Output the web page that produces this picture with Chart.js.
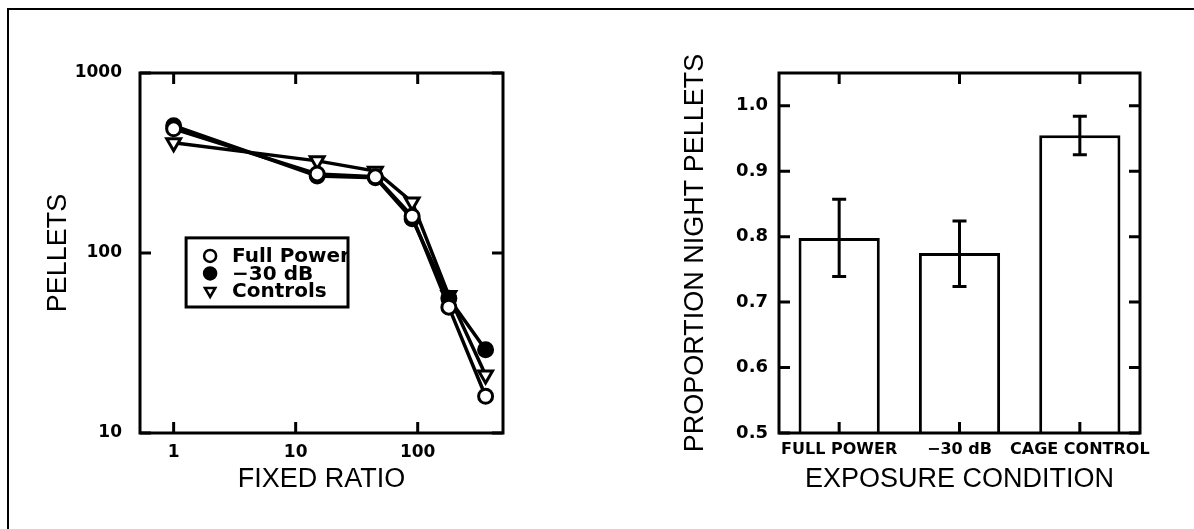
<!DOCTYPE html>
<html>
<head>
<meta charset="utf-8">
<script src="https://cdn.jsdelivr.net/npm/chart.js@4.4.1/dist/chart.umd.min.js"></script>
<style>
  html, body { margin: 0; padding: 0; background: #fff; }
  body { width: 1194px; height: 529px; position: relative; overflow: hidden; }
  #frame { position: absolute; left: 7px; top: 8px; right: -4px; bottom: -4px; border-top: 2px solid #000; border-left: 2px solid #000; }
  canvas { position: absolute; top: 0; }
  #pelletChart { left: 0; }
  #nightChart { left: 600px; }
</style>
</head>
<body>
<div id="frame"></div>
<canvas id="pelletChart" width="600" height="529"></canvas>
<canvas id="nightChart" width="594" height="529"></canvas>
<script>
// ── Data: pellets vs fixed ratio ─────────────────────────────────────────────
const fixedRatios = [1, 15, 45, 90, 180, 360];
const fullPower   = [490, 275, 265, 160, 50, 16];
const minus30dB   = [510, 268, 262, 155, 56, 29];
const controls    = [410, 325, 285, 192, 58, 21];
const ratioTicks  = [1, 10, 100];
const pelletTicks = [10, 100, 1000];

// ── Data: proportion of night pellets ────────────────────────────────────────
const conditions = ['FULL POWER', '\u221230 dB', 'CAGE CONTROL'];
const proportion = [0.798, 0.775, 0.955];
const errLow     = [0.739, 0.724, 0.925];
const errHigh    = [0.857, 0.824, 0.984];
const propTicks  = [0.5, 0.6, 0.7, 0.8, 0.9, 1.0];

Chart.defaults.color = '#000';
Chart.defaults.font.family = "'DejaVu Sans', sans-serif";

const titleFont = { family: "'Liberation Sans', Arial, sans-serif", size: 27 };
const tickFont  = { family: "'DejaVu Sans', sans-serif", size: 17, weight: 'bold' };

// box round the plot + inward ticks on all four sides
const boxTicks = {
  id: 'boxTicks',
  afterDraw(chart, args, opts) {
    const { ctx, chartArea: a, scales: { x, y } } = chart;
    const len = opts.len || 11;
    ctx.save();
    ctx.strokeStyle = '#000';
    ctx.lineWidth = 3;
    ctx.strokeRect(a.left, a.top, a.right - a.left, a.bottom - a.top);
    ctx.beginPath();
    x.ticks.forEach((t, i) => {
      const px = x.getPixelForTick(i);
      ctx.moveTo(px, a.top);    ctx.lineTo(px, a.top + len);
      ctx.moveTo(px, a.bottom); ctx.lineTo(px, a.bottom - len);
    });
    y.ticks.forEach((t, i) => {
      const py = y.getPixelForTick(i);
      ctx.moveTo(a.left, py);  ctx.lineTo(a.left + len, py);
      ctx.moveTo(a.right, py); ctx.lineTo(a.right - len, py);
    });
    ctx.stroke();
    ctx.restore();
  }
};

// legend box sitting inside the plot (text runs under the right edge, as in the scan)
const insetLegend = {
  id: 'insetLegend',
  afterDatasetsDraw(chart, args, opts) {
    const { ctx, chartArea: a } = chart;
    const w = a.right - a.left, h = a.bottom - a.top;
    const x0 = a.left + w * opts.box[0], y0 = a.top + h * opts.box[1];
    const x1 = a.left + w * opts.box[2], y1 = a.top + h * opts.box[3];
    ctx.save();
    ctx.fillStyle = '#fff';
    ctx.fillRect(x0, y0, x1 - x0, y1 - y0);
    ctx.save();
    ctx.beginPath();
    ctx.rect(x0, y0, x1 - x0, y1 - y0);
    ctx.clip();
    ctx.font = 'bold 20px "DejaVu Sans", sans-serif';
    ctx.textBaseline = 'middle';
    chart.data.datasets.forEach((ds, i) => {
      const cy = y0 + 18 + i * 17.5;
      ctx.fillStyle = ds.pointBackgroundColor;
      ctx.strokeStyle = '#000';
      ctx.lineWidth = 2.5;
      Chart.helpers.drawPoint(ctx, {
        pointStyle: ds.pointStyle, radius: 6, rotation: ds.pointRotation || 0, borderWidth: 2.5
      }, x0 + 24, cy);
      ctx.fillStyle = '#000';
      ctx.fillText(ds.label, x0 + 46, cy + 1);
    });
    ctx.restore();
    ctx.strokeStyle = '#000';
    ctx.lineWidth = 3;
    ctx.strokeRect(x0, y0, x1 - x0, y1 - y0);
    ctx.restore();
  }
};

// error bars for the bar chart
const errorBars = {
  id: 'errorBars',
  afterDatasetsDraw(chart) {
    const { ctx, scales: { x, y } } = chart;
    ctx.save();
    ctx.strokeStyle = '#000';
    ctx.lineWidth = 3;
    errLow.forEach((lo, i) => {
      const px = x.getPixelForValue(i);
      const pLo = y.getPixelForValue(lo);
      const pHi = y.getPixelForValue(errHigh[i]);
      ctx.beginPath();
      ctx.moveTo(px, pLo);     ctx.lineTo(px, pHi);
      ctx.moveTo(px - 7, pLo); ctx.lineTo(px + 7, pLo);
      ctx.moveTo(px - 7, pHi); ctx.lineTo(px + 7, pHi);
      ctx.stroke();
    });
    ctx.restore();
  }
};

const toPoints = vals => vals.map((v, i) => ({ x: fixedRatios[i], y: v }));
const lineStyle = { borderColor: '#000', borderWidth: 3.5, tension: 0, pointBorderColor: '#000', pointBorderWidth: 3 };

// ── Left: pellets vs fixed ratio ─────────────────────────────────────────────
new Chart(document.getElementById('pelletChart').getContext('2d'), {
  type: 'line',
  data: {
    datasets: [
      { ...lineStyle, label: 'Full Power', data: toPoints(fullPower), pointStyle: 'circle', pointRadius: 7, pointBackgroundColor: '#fff' },
      { ...lineStyle, label: '\u221230 dB', data: toPoints(minus30dB), pointStyle: 'circle', pointRadius: 7, pointBackgroundColor: '#000' },
      { ...lineStyle, label: 'Controls', data: toPoints(controls), pointStyle: 'triangle', pointRotation: 180, pointRadius: 8, pointBackgroundColor: '#fff' },
    ],
  },
  options: {
    responsive: false,
    animation: false,
    layout: { padding: { top: 73, right: 97, bottom: 0, left: 0 } },
    scales: {
      x: {
        type: 'logarithmic', min: 0.53, max: 500,
        afterBuildTicks: s => { s.ticks = ratioTicks.map(v => ({ value: v })); },
        afterFit: s => { s.height = 96; },
        ticks: { font: tickFont, padding: 9, maxRotation: 0, callback: v => String(v) },
        grid: { display: false, drawTicks: false },
        border: { display: false },
        title: { display: true, text: 'FIXED RATIO', font: titleFont, padding: { top: 0, bottom: 33 } },
      },
      y: {
        type: 'logarithmic', min: 10, max: 1000,
        afterBuildTicks: s => { s.ticks = pelletTicks.map(v => ({ value: v })); },
        afterFit: s => { s.width = 140; },
        ticks: { font: tickFont, padding: 18, callback: v => String(v) },
        grid: { display: false, drawTicks: false },
        border: { display: false },
        title: { display: true, text: 'PELLETS', font: titleFont, padding: { top: 42, bottom: 0 } },
      },
    },
    plugins: {
      legend: { display: false },
      tooltip: { enabled: false },
      boxTicks: { len: 11 },
      insetLegend: { box: [0.127, 0.458, 0.573, 0.65] },
    },
  },
  plugins: [boxTicks, insetLegend],
});

// ── Right: proportion night pellets by condition ─────────────────────────────
new Chart(document.getElementById('nightChart').getContext('2d'), {
  type: 'bar',
  data: {
    labels: conditions,
    datasets: [{
      label: 'Proportion',
      data: proportion,
      backgroundColor: '#fff',
      borderColor: '#000',
      borderWidth: 3,
      borderSkipped: false,
      categoryPercentage: 1,
      barPercentage: 0.675,
    }],
  },
  options: {
    responsive: false,
    animation: false,
    layout: { padding: { top: 73, right: 54, bottom: 0, left: 0 } },
    scales: {
      x: {
        afterFit: s => { s.height = 96; },
        ticks: { font: { ...tickFont, size: 16 }, padding: 7, maxRotation: 0, autoSkip: false },
        grid: { display: false, drawTicks: false },
        border: { display: false },
        title: { display: true, text: 'EXPOSURE CONDITION', font: titleFont, padding: { top: 0, bottom: 33 } },
      },
      y: {
        min: 0.5, max: 1.05,
        afterBuildTicks: s => { s.ticks = propTicks.map(v => ({ value: v })); },
        afterFit: s => { s.width = 179; },
        ticks: { font: { ...tickFont, size: 18 }, padding: 11, callback: v => v.toFixed(1) },
        grid: { display: false, drawTicks: false },
        border: { display: false },
        title: { display: true, text: 'PROPORTION NIGHT PELLETS', font: titleFont, padding: { top: 79, bottom: 0 } },
      },
    },
    plugins: {
      legend: { display: false },
      tooltip: { enabled: false },
      boxTicks: { len: 11 },
    },
  },
  plugins: [errorBars, boxTicks],
});
</script>
</body>
</html>
